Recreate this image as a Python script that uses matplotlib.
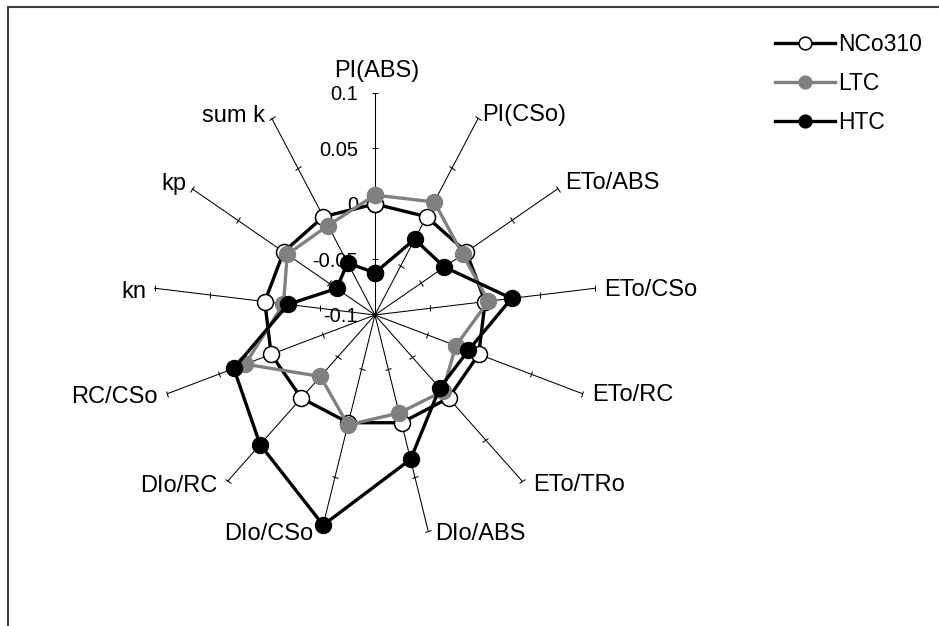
import numpy as np
import matplotlib.pyplot as plt
from matplotlib.markers import MarkerStyle
from matplotlib.transforms import Affine2D
from matplotlib.patches import Rectangle

plt.rcParams['font.family'] = ['Liberation Sans', 'DejaVu Sans']

# data
categories = ['PI(ABS)', 'PI(CSo)', 'ETo/ABS', 'ETo/CSo', 'ETo/RC', 'ETo/TRo',
              'DIo/ABS', 'DIo/CSo', 'DIo/RC', 'RC/CSo', 'kn', 'kp', 'sum k']
nco310 = [0.0, 0.0, 0.0, 0.0, 0.0, 0.0, 0.0, 0.0, 0.0, 0.0, 0.0, 0.0, 0.0]
ltc = [0.008, 0.015, -0.004, 0.003, -0.022, -0.008, -0.009, 0.002, -0.026,
       0.025, -0.017, -0.004, -0.009]
htc = [-0.062, -0.023, -0.024, 0.024, -0.010, -0.012, 0.034, 0.095, 0.056,
       0.036, -0.021, -0.058, -0.047]
r_ticks = [-0.1, -0.05, 0, 0.05, 0.1]
r_ticklabels = ['-0.1', '-0.05', '0', '0.05', '0.1']

# label placement: (dx, dy) pixels from spoke end to label anchor
# (screen y down, anchor = cap-centre on the near edge)
label_offsets = [(2, -24), (4, -6), (7, -8), (9, -1), (10, -1), (11, 1),
                 (7, 1), (-9, 1), (-10, 2), (-10, 1), (-8, 1), (-6, -7), (-7, -5)]

n = len(categories)
theta = np.arange(n) * 2 * np.pi / n
FS = 17
CAP = FS * 100 / 72 * 0.716 / 2

fig = plt.figure(figsize=(9.39, 6.26), dpi=100)
ax = fig.add_axes([0.1629, 0.1422, 0.4728, 0.7093], projection='polar')
ax.set_theta_offset(np.pi / 2)
ax.set_theta_direction(-1)
ax.grid(False)
ax.spines['polar'].set_visible(False)
ax.set_xticks([])
ax.set_yticks([])
ax.patch.set_visible(False)

# spokes with small cross ticks
for t in theta:
    ax.plot([t, t], [r_ticks[0], r_ticks[-1]], color='black', lw=0.75, clip_on=False, zorder=1)
    m = MarkerStyle('_', transform=Affine2D().rotate_deg(-np.degrees(t)))
    ax.plot([t] * 4, r_ticks[1:], ls='none', marker=m, ms=5, mew=0.75,
            color='black', clip_on=False, zorder=1)

# value labels on first spoke
tfs = 14.5
for r, lab in zip(r_ticks, r_ticklabels):
    ax.annotate(lab, xy=(0, r), xytext=(-17, -tfs * 100 / 72 * 0.716 / 2),
                textcoords='offset pixels', ha='right', va='baseline', fontsize=tfs)

# category labels
for t, cat, (dx, dy) in zip(theta, categories, label_offsets):
    s = np.sin(t)
    if s > 0.1:
        ha = 'left'
    elif s < -0.1:
        ha = 'right'
    else:
        ha = 'center'
    ax.annotate(cat, xy=(t, 0.1), xytext=(dx, -(dy + CAP)), textcoords='offset pixels',
                ha=ha, va='baseline', fontsize=FS)

th_closed = np.append(theta, theta[0])

def closed(v):
    return np.append(v, v[0])

ax.plot(th_closed, closed(nco310), color='black', lw=2.4, marker='o', ms=11.5,
        mfc='white', mec='black', mew=1.1, clip_on=False, zorder=3, label='NCo310')
ax.plot(th_closed, closed(ltc), color='#808080', lw=2.4, marker='o', ms=11.5,
        mfc='#808080', mec='#808080', clip_on=False, zorder=4, label='LTC')
ax.plot(th_closed, closed(htc), color='black', lw=2.4, marker='o', ms=11.5,
        mfc='black', mec='black', clip_on=False, zorder=5, label='HTC')

ax.set_ylim(-0.1, 0.1)

fig.legend(loc='upper left', bbox_to_anchor=(0.8254, 0.947), frameon=False,
           fontsize=16.5, handlelength=2.6, handletextpad=0.15, numpoints=1,
           borderpad=0, borderaxespad=0, labelspacing=0.7, markerscale=0.8)

fig.add_artist(Rectangle((7.5 / 939, -0.05), 1.1, 1 - 6.5 / 626 + 0.05,
                         transform=fig.transFigure, fill=False,
                         edgecolor='#404040', lw=1.5))

fig.savefig('out.png', dpi=100)
